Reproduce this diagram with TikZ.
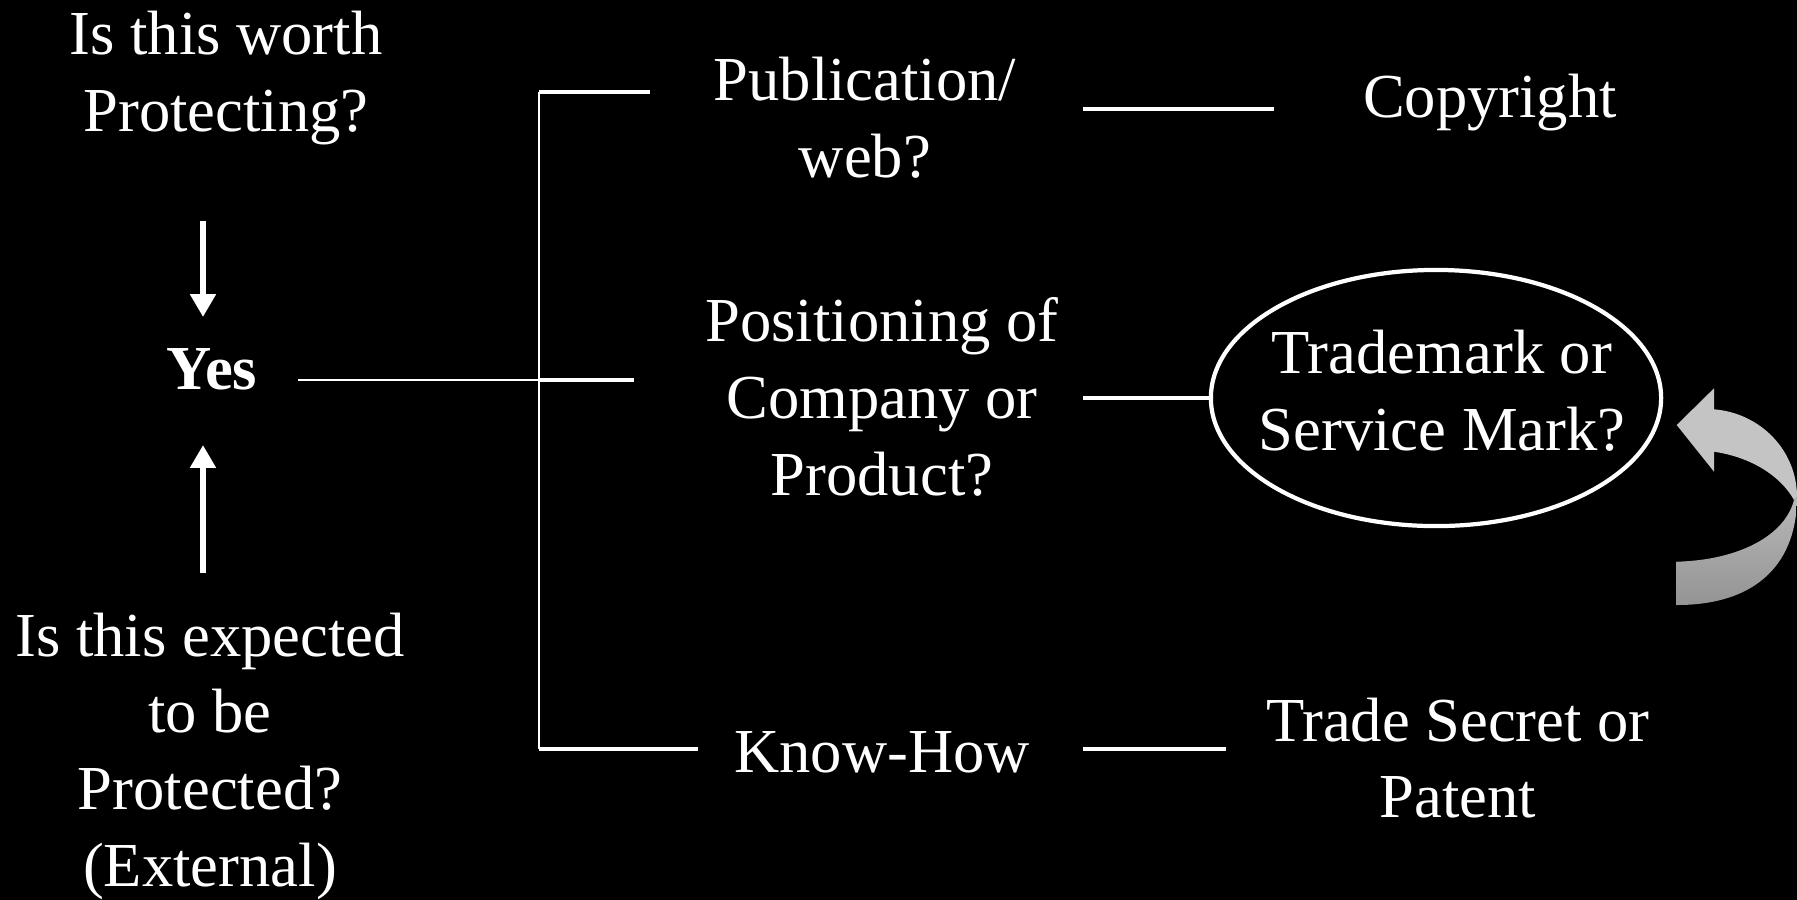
\documentclass[tikz,border=0pt]{standalone}
\usepackage{fontspec}
\setmainfont{Liberation Serif}
\usetikzlibrary{arrows.meta, shapes.geometric}

\begin{document}
\begin{tikzpicture}[x = 0.01cm, y = -0.01cm, > = {Triangle[length = 6.5pt, width = 7pt]},
	every node/.style = {text = white, align = center, font = \fontsize{17.8}{21.8}\selectfont},
	link/.style = {draw = white, line width = 1pt},
	thinlink/.style = {draw = white, line width = 0.45pt},
	flow/.style = {draw = white, line width = 1.7pt, ->}]

	% Definitions

	\def\J{539}		% x of the branch line
	\def\G{1083}	% x where the right hand links start

	% Background

	\useasboundingbox (0, 0) rectangle (1797, 899);
	\fill [black] (-10, -10) rectangle (1807, 909);

	% Left column

	\node (worth) at (226, 78) {Is this worth\\Protecting?};
	\node [font = \fontsize{17.8}{21.8}\selectfont\bfseries] (yes) at (212, 369) {Yes};
	\node (expected) at (210, 756) {Is this expected\\to be\\Protected?\\(External)};

	\coordinate (dtop) at (203, 221);
	\coordinate (dbot) at (203, 317);
	\coordinate (utop) at (203, 445);
	\coordinate (ubot) at (203, 573);

	\draw [flow] (dtop) -- (dbot);
	\draw [flow] (ubot) -- (utop);

	% Branches

	\node (pub) at (865, 118) {Publication/\\web?};
	\node (pos) at (882, 397) {Positioning of\\Company or\\Product?};
	\node (know) at (882, 752) {Know-How};

	\coordinate (yesend) at (298, 380);
	\coordinate (j0) at (\J, 92);
	\coordinate (j1) at (\J, 380);
	\coordinate (j2) at (\J, 749);
	\coordinate (b0) at (650, 92);
	\coordinate (b1) at (634, 380);
	\coordinate (b2) at (698, 749);

	\draw [thinlink] (yesend) -- (j1);
	\draw [thinlink] (j0) -- (j2);
	\draw [link] (j0) -- (b0);
	\draw [link] (j1) -- (b1);
	\draw [link] (j2) -- (b2);

	% Outcomes

	\node (copy) at (1490, 103) {Copyright};
	\node [ellipse, draw = white, line width = 1.2pt, inner sep = 0pt,
		minimum width = 4.5cm, minimum height = 2.56cm] (tm) at (1436, 398) {};
	\node (tmtext) at (1442, 391) {Trademark or\\Service Mark?};
	\node (secret) at (1458, 758) {Trade Secret or\\Patent};

	\coordinate (g0) at (\G, 109);
	\coordinate (g1) at (\G, 398);
	\coordinate (g2) at (\G, 749);
	\coordinate (c0) at (1274, 109);
	\coordinate (c2) at (1226, 749);

	\draw [link] (g0) -- (c0);
	\draw [link] (g1) -- (tm.west);
	\draw [link] (g2) -- (c2);

	% Curved arrow back to the mark

	\shade [top color = black!28, bottom color = black!42]
		(1676.7, 561.7) .. controls (1740, 560) and (1785, 535) .. (1794, 500)
		-- (1797, 497) .. controls (1797, 560) and (1760, 605) .. (1676.7, 605) -- cycle;
	\fill [black!23]
		(1676.7, 425) -- (1714, 388.3) -- (1714, 409.3)
		.. controls (1760, 413) and (1797, 450) .. (1797, 497)
		-- (1794, 500) .. controls (1780, 475) and (1750, 457) .. (1714, 451.7)
		-- (1714, 471.7) -- cycle;

\end{tikzpicture}
\end{document}
